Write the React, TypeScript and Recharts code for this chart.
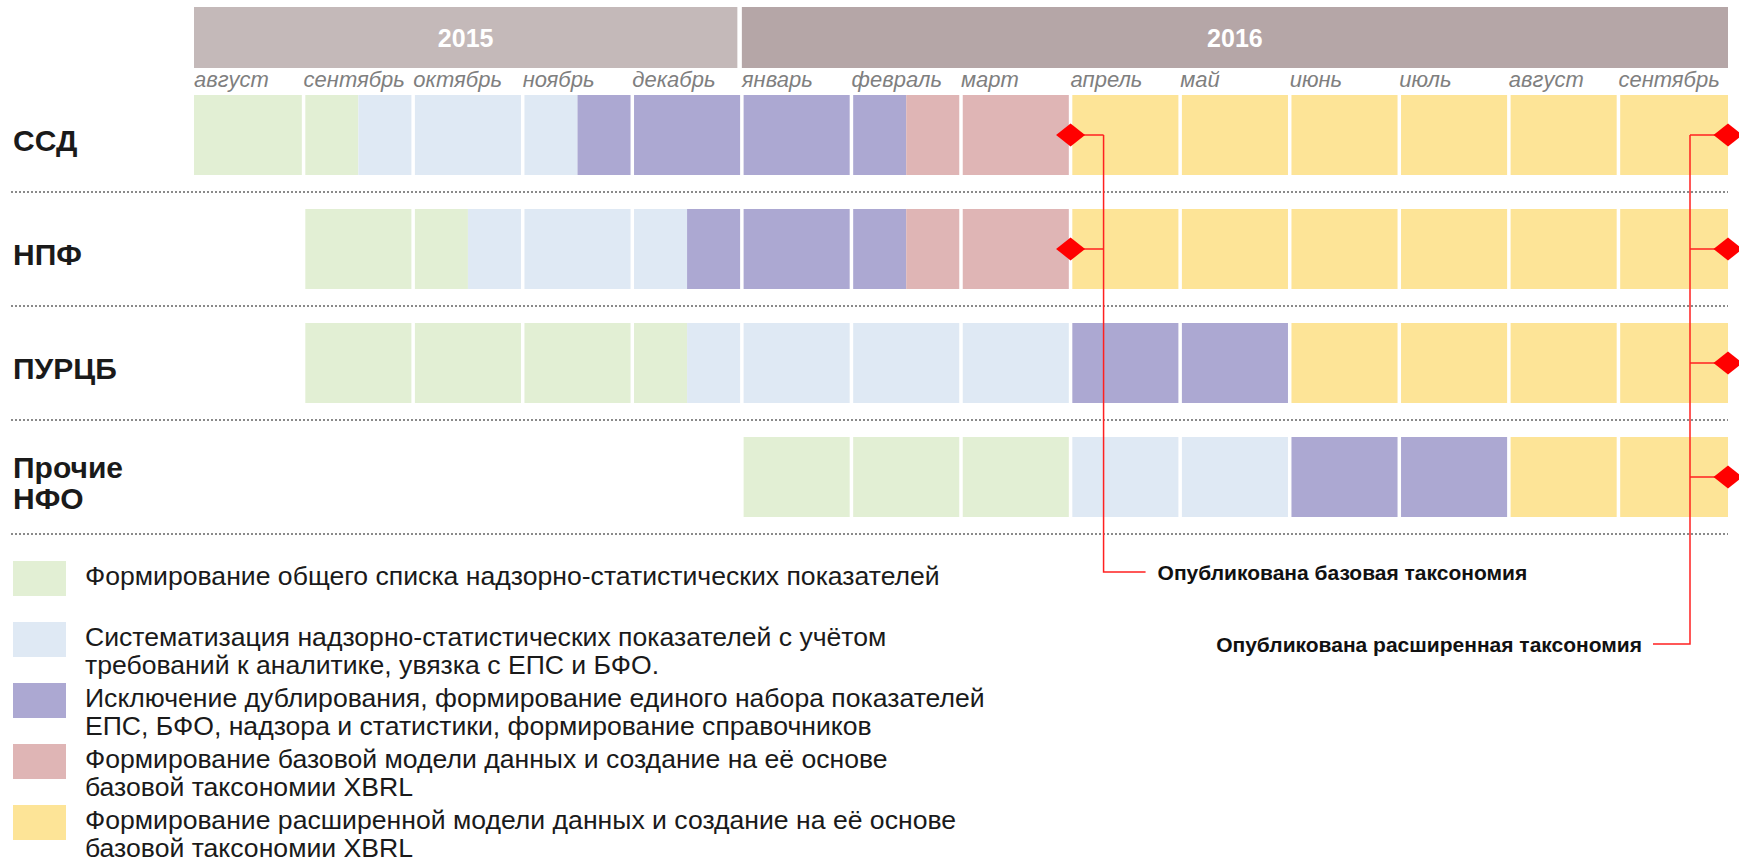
import {
  Bar,
  BarChart,
  Legend,
  ReferenceArea,
  ReferenceDot,
  ReferenceLine,
  XAxis,
  YAxis,
} from "recharts";

const FONT = "Arial, 'Liberation Sans', sans-serif";

const rows = ["ССД", "НПФ", "ПУРЦБ", "Прочие НФО"];
const months = [
  "август",
  "сентябрь",
  "октябрь",
  "ноябрь",
  "декабрь",
  "январь",
  "февраль",
  "март",
  "апрель",
  "май",
  "июнь",
  "июль",
  "август",
  "сентябрь",
];
const years = ["2015", "2016"];
const yearFrom = [0, 5];
const yearTo = [5, 14];
const yearColors = ["#c4b9b9", "#b5a6a7"];

// month index (0 = август 2015) where each row starts, then length of each phase in months
const rowStart = [0, 1, 1, 5];
const listing = [1.5, 1.5, 3.5, 3];
const systematizing = [2, 2, 3.5, 2];
const dedup = [3, 2, 2, 2];
const baseModel = [1.5, 1.5, 0, 0];
const extModel = [6, 6, 4, 2];

const phaseKeys = ["listing", "systematizing", "dedup", "baseModel", "extModel"];
const phaseColors = ["#e2efd4", "#dfe9f4", "#aca8d2", "#dfb5b5", "#fde497"];
const phaseNames = [
  "Формирование общего списка надзорно-статистических показателей",
  "Систематизация надзорно-статистических показателей с учётом\nтребований к аналитике, увязка с ЕПС и БФО.",
  "Исключение дублирования, формирование единого набора показателей\nЕПС, БФО, надзора и статистики, формирование справочников",
  "Формирование базовой модели данных и создание на её основе\nбазовой таксономии XBRL",
  "Формирование расширенной модели данных и создание на её основе\nбазовой таксономии XBRL",
];

// milestones (month boundary) and the rows they are marked on
const baseRelease = 8;
const baseReleaseRows = ["ССД", "НПФ"];
const baseReleaseLabel = "Опубликована базовая таксономия";
const extRelease = 14;
const extReleaseRows = ["ССД", "НПФ", "ПУРЦБ", "Прочие НФО"];
const extReleaseLabel = "Опубликована расширенная таксономия";

const data = rows.map((name, i) => ({
  name,
  start: rowStart[i],
  listing: listing[i],
  systematizing: systematizing[i],
  dedup: dedup[i],
  baseModel: baseModel[i],
  extModel: extModel[i],
}));

const GAP = 1.75;
const RED = "#ff2020";

function phaseShape(k: number) {
  return (props: any) => {
    const { x, y, width, height, payload } = props;
    let s = payload.start;
    for (let j = 0; j < k; j++) s += payload[phaseKeys[j]];
    const e = s + payload[phaseKeys[k]];
    if (!(e > s) || !(width > 0)) return <g />;
    const ppm = width / (e - s);
    const cuts = [s];
    for (let m = Math.floor(s) + 1; m < e; m++) cuts.push(m);
    cuts.push(e);
    const inner = (m: number) => Number.isInteger(m) && m > 0 && m < months.length;
    return (
      <g>
        {cuts.slice(1).map((b, i) => {
          const a = cuts[i];
          const x0 = x + (a - s) * ppm + (inner(a) ? GAP : 0);
          const x1 = x + (b - s) * ppm - (inner(b) ? GAP : 0);
          return (
            <rect
              key={i}
              x={x0}
              y={y}
              width={Math.max(0, x1 - x0)}
              height={height}
              fill={phaseColors[k]}
            />
          );
        })}
      </g>
    );
  };
}

function MonthTick({ x, payload }: any) {
  return (
    <text
      x={x}
      y={79}
      fontFamily={FONT}
      fontStyle="italic"
      fontSize={22}
      fill="#7f7f7f"
      dominantBaseline="central"
    >
      {months[payload.value]}
    </text>
  );
}

function RowTick({ y, payload }: any) {
  const lines = String(payload.value).split(" ");
  const top = y + 5 - ((lines.length - 1) * 31) / 2;
  return (
    <text
      x={13}
      y={top}
      fontFamily={FONT}
      fontWeight="bold"
      fontSize={30}
      fill="#1a1a1a"
      dominantBaseline="central"
    >
      {lines.map((l, i) => (
        <tspan key={i} x={13} y={top + i * 31}>
          {l}
        </tspan>
      ))}
    </text>
  );
}

function yearShape(i: number) {
  return (p: any) => {
    const w = p.width - (i < years.length - 1 ? 4.5 : 0);
    return (
      <g>
        <rect x={p.x} y={7} width={w} height={61} fill={yearColors[i]} />
        <text
          x={p.x + w / 2}
          y={38}
          textAnchor="middle"
          dominantBaseline="central"
          fontFamily={FONT}
          fontWeight="bold"
          fontSize={25}
          fill="#ffffff"
        >
          {years[i]}
        </text>
      </g>
    );
  };
}

function diamond(cx: number, cy: number) {
  return (
    <polygon
      points={`${cx - 14.5},${cy} ${cx},${cy - 11.5} ${cx + 14.5},${cy} ${cx},${cy + 11.5}`}
      fill="#ff0000"
    />
  );
}

function baseMarker(first: boolean) {
  return (p: any) => {
    const { cx, cy } = p;
    const lx = cx + 33;
    return (
      <g>
        <line x1={cx} y1={cy} x2={lx} y2={cy} stroke={RED} strokeWidth={1.5} />
        {first && (
          <g>
            <polyline
              points={`${lx},${cy} ${lx},572 ${cx + 75},572`}
              fill="none"
              stroke={RED}
              strokeWidth={1.5}
            />
            <text
              x={cx + 87}
              y={572}
              dominantBaseline="central"
              fontFamily={FONT}
              fontWeight="bold"
              fontSize={21}
              fill="#111"
            >
              {baseReleaseLabel}
            </text>
          </g>
        )}
        {diamond(cx, cy)}
      </g>
    );
  };
}

function extMarker(first: boolean) {
  return (p: any) => {
    const { cx, cy } = p;
    const lx = cx - 38;
    return (
      <g>
        <line x1={lx} y1={cy} x2={cx} y2={cy} stroke={RED} strokeWidth={1.5} />
        {first && (
          <g>
            <polyline
              points={`${lx},${cy} ${lx},644 ${cx - 75},644`}
              fill="none"
              stroke={RED}
              strokeWidth={1.5}
            />
            <text
              x={cx - 86}
              y={644}
              textAnchor="end"
              dominantBaseline="central"
              fontFamily={FONT}
              fontWeight="bold"
              fontSize={21}
              fill="#111"
            >
              {extReleaseLabel}
            </text>
          </g>
        )}
        {diamond(cx, cy)}
      </g>
    );
  };
}

function LegendBox({ payload }: any) {
  const items = [...(payload ?? [])]
    .filter((p: any) => phaseNames.includes(p.value))
    .sort((a: any, b: any) => phaseNames.indexOf(a.value) - phaseNames.indexOf(b.value));
  return (
    <div style={{ fontFamily: FONT, fontSize: 26.6, lineHeight: "27.5px", color: "#1a1a1a" }}>
      {items.map((p: any, i: number) => (
        <div key={i} style={{ display: "flex", height: 61 }}>
          <div
            style={{ width: 53, height: 35, background: p.color, marginLeft: 13, flex: "none" }}
          />
          <div style={{ marginLeft: 19, whiteSpace: "pre-line", marginTop: 2 }}>{p.value}</div>
        </div>
      ))}
    </div>
  );
}

export default function App() {
  return (
    <div style={{ position: "absolute", left: 0, top: 0, background: "#fff" }}>
      <BarChart
        width={1739}
        height={858}
        data={data}
        layout="vertical"
        barSize={80}
        margin={{ top: 48, right: 11, bottom: 324, left: 0 }}
      >
        <XAxis
          type="number"
          orientation="top"
          domain={[0, months.length]}
          ticks={months.map((_, i) => i)}
          interval={0}
          height={30}
          axisLine={false}
          tickLine={false}
          tick={<MonthTick />}
          allowDataOverflow
        />
        <YAxis
          type="category"
          dataKey="name"
          width={194}
          axisLine={false}
          tickLine={false}
          tick={<RowTick />}
        />
        {years.map((_, i) => (
          <ReferenceArea
            key={`y${i}`}
            x1={yearFrom[i]}
            x2={yearTo[i]}
            y1={rows[0]}
            y2={rows[0]}
            ifOverflow="visible"
            shape={yearShape(i)}
          />
        ))}
        {rows.map((r) => (
          <ReferenceLine
            key={`sep${r}`}
            y={r}
            position="end"
            ifOverflow="visible"
            shape={(p: any) => (
              <line
                x1={11}
                y1={p.y1}
                x2={p.x2}
                y2={p.y2}
                stroke="#8a8a8a"
                strokeWidth={2}
                strokeDasharray="2 2"
              />
            )}
          />
        ))}
        <Bar
          dataKey="start"
          stackId="g"
          fill="none"
          legendType="none"
          isAnimationActive={false}
          shape={() => <g />}
        />
        {phaseKeys.map((k, i) => (
          <Bar
            key={k}
            dataKey={k}
            stackId="g"
            name={phaseNames[i]}
            fill={phaseColors[i]}
            isAnimationActive={false}
            shape={phaseShape(i)}
          />
        ))}
        {baseReleaseRows.map((r, i) => (
          <ReferenceDot
            key={`b${r}`}
            x={baseRelease}
            y={r}
            ifOverflow="visible"
            shape={baseMarker(i === 0)}
          />
        ))}
        {extReleaseRows.map((r, i) => (
          <ReferenceDot
            key={`e${r}`}
            x={extRelease}
            y={r}
            ifOverflow="visible"
            shape={extMarker(i === 0)}
          />
        ))}
        <Legend
          layout="horizontal"
          verticalAlign="middle"
          align="center"
          wrapperStyle={{ left: 0, top: 561, width: 1000, height: 296 }}
          content={<LegendBox />}
        />
      </BarChart>
    </div>
  );
}
